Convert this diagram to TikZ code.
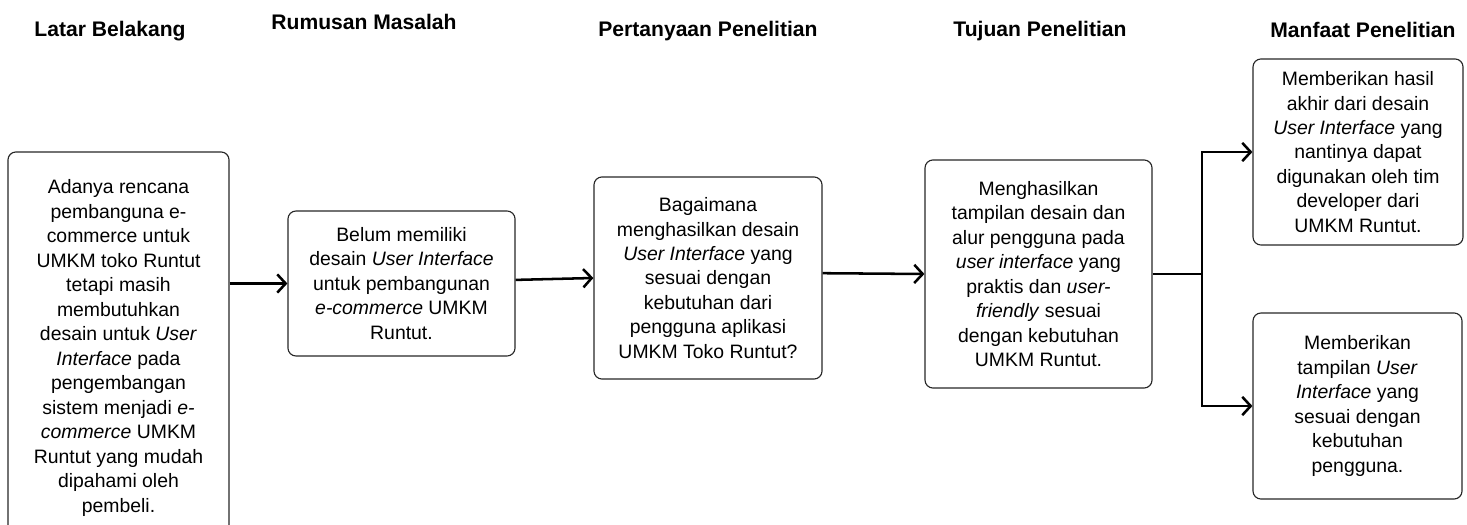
\documentclass[tikz,border=0pt]{standalone}
\usepackage{fontspec}
\setmainfont{Liberation Sans}
\usetikzlibrary{arrows.meta, positioning}
\newcommand{\bodyfont}{\fontsize{13.8}{17.4}\selectfont}
\newcommand{\headfont}{\fontsize{15}{17}\selectfont\bfseries}
\tikzset{
    box/.style={
        draw=black!85,
        line width=0.8pt,
        rounded corners=0.2cm,
        align=center,
        inner sep=2pt,
        font=\bodyfont
    },
    heading/.style={font=\headfont, text=black},
    line/.style={-{Straight Barb[length=6pt, width=13pt]}, line width=1.8pt},
    plainline/.style={line width=1.8pt}
}

\begin{document}
\begin{tikzpicture}[x=0.025cm, y=-0.025cm]
\useasboundingbox (0,0) rectangle (1467,525);

\node[heading] (hlatar) at (110,31) {Latar Belakang};
\node[heading] (hrumusan) at (364,22) {Rumusan Masalah};
\node[heading] (hpertanyaan) at (708,31) {Pertanyaan Penelitian};
\node[heading] (htujuan) at (1040,31) {Tujuan Penelitian};
\node[heading] (hmanfaat) at (1363,30) {Manfaat Penelitian};

\node[box, minimum width=5.525cm, minimum height=9.8cm] (latar) at (118.5,348) {Adanya rencana\\pembanguna e-\\commerce untuk\\UMKM toko Runtut\\tetapi masih\\membutuhkan\\desain untuk \textit{User}\\\textit{Interface} pada\\pengembangan\\sistem menjadi \textit{e-}\\\textit{commerce} UMKM\\Runtut yang mudah\\dipahami oleh\\pembeli.};
\node[box, minimum width=5.675cm, minimum height=3.625cm] (rumusan) at (401.5,283.5) {Belum memiliki\\desain \textit{User Interface}\\untuk pembangunan\\\textit{e-commerce} UMKM\\Runtut.};
\node[box, minimum width=5.7cm, minimum height=5.05cm] (pertanyaan) at (708,278) {Bagaimana\\menghasilkan desain\\\textit{User Interface} yang\\sesuai dengan\\kebutuhan dari\\pengguna aplikasi\\UMKM Toko Runtut?};
\node[box, minimum width=5.675cm, minimum height=5.7cm] (tujuan) at (1038.5,274) {Menghasilkan\\tampilan desain dan\\alur pengguna pada\\\textit{user interface} yang\\praktis dan \textit{user-}\\\textit{friendly} sesuai\\dengan kebutuhan\\UMKM Runtut.};
\node[box, minimum width=5.25cm, minimum height=4.65cm] (manfaatA) at (1358,152) {Memberikan hasil\\akhir dari desain\\\textit{User Interface} yang\\nantinya dapat\\digunakan oleh tim\\developer dari\\UMKM Runtut.};
\node[box, minimum width=5.225cm, minimum height=4.65cm] (manfaatB) at (1357.5,406) {Memberikan\\tampilan \textit{User}\\\textit{Interface} yang\\sesuai dengan\\kebutuhan\\pengguna.};

\coordinate (split) at (1202,274);

\draw[line] (latar.east |- rumusan.west) -- (rumusan.west);
\draw[line] ([yshift=0.09cm]rumusan.east) -- (pertanyaan.west);
\draw[line] ([yshift=0.12cm]pertanyaan.east) -- (tujuan.west);
\draw[plainline] (tujuan.east) -- (split);
\draw[line] (split) |- (manfaatA.west);
\draw[line] (split) |- (manfaatB.west);
\end{tikzpicture}
\end{document}
